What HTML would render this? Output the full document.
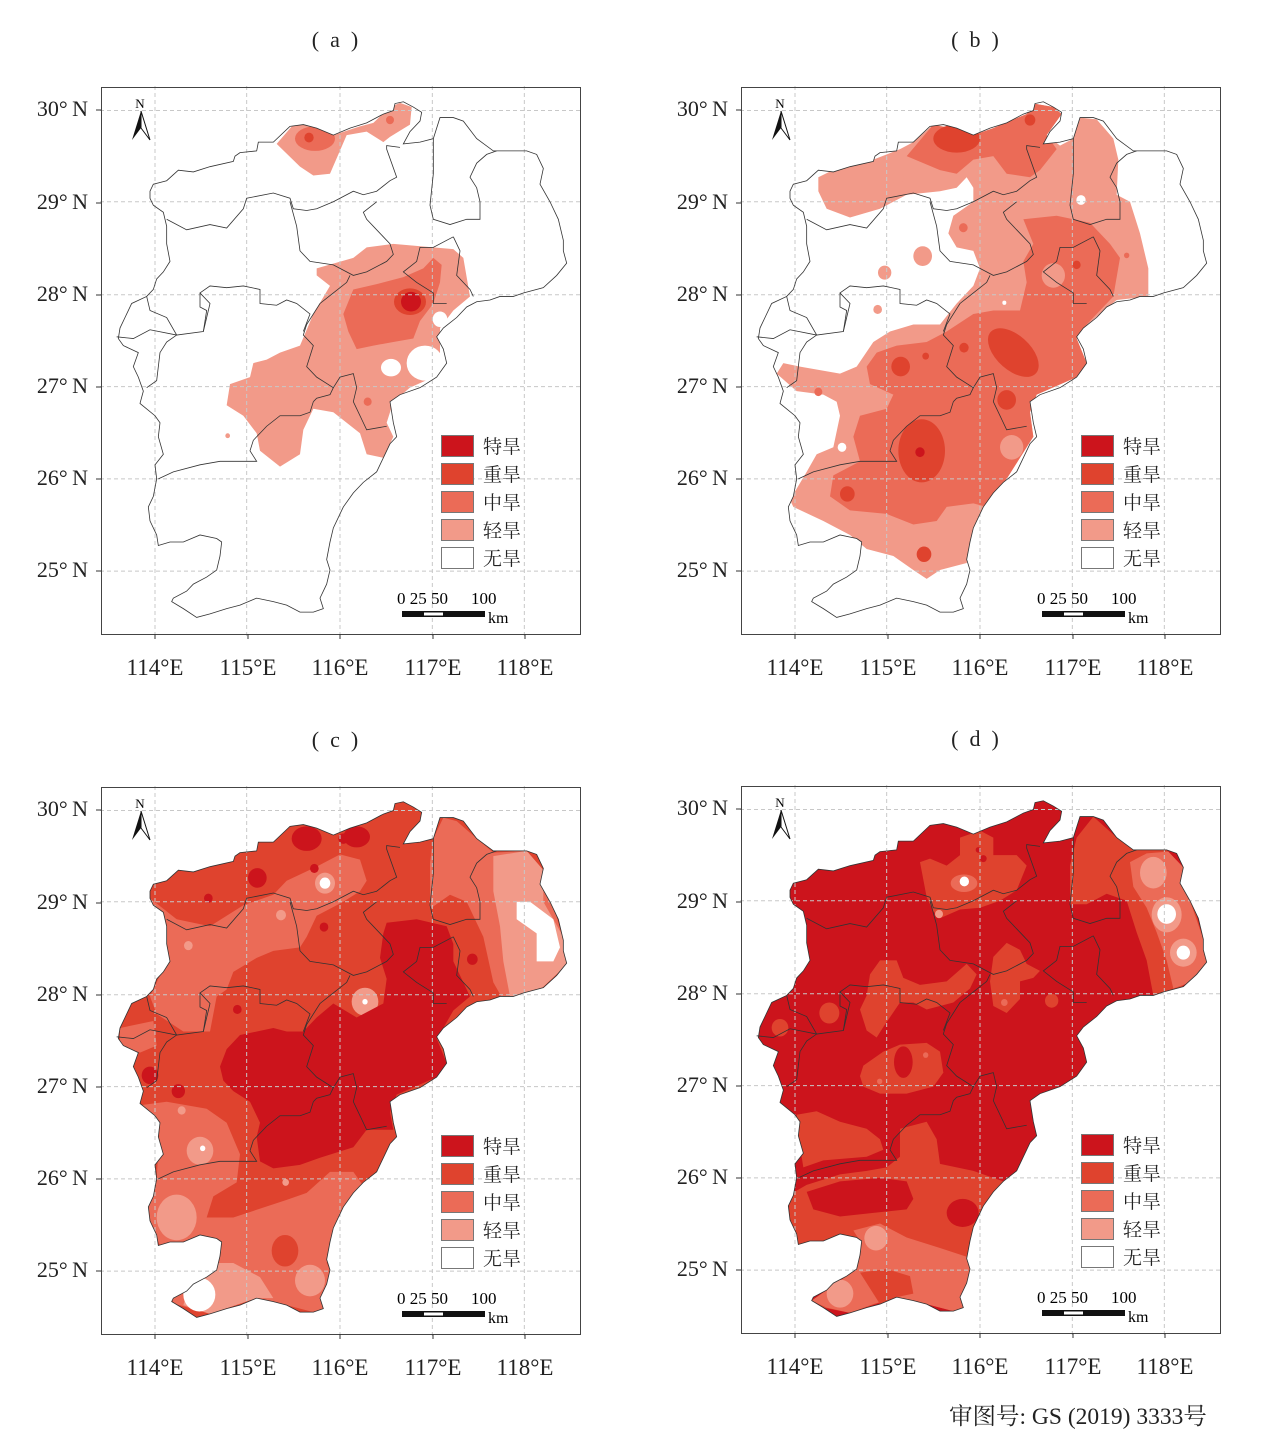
<!DOCTYPE html>
<html><head><meta charset="utf-8">
<style>
html,body{margin:0;padding:0;background:#fff;}
body{width:1288px;height:1440px;position:relative;overflow:hidden;font-family:"Liberation Serif","Noto Serif CJK SC",serif;color:#222;}
.p{position:absolute;width:640px;height:700px;}
.p svg.map{position:absolute;left:100px;top:86px;}
.frame{position:absolute;left:101px;top:87px;width:478px;height:546px;border:1px solid #444;}
.t{position:absolute;font-size:21px;white-space:nowrap;}
.lat{position:absolute;font-size:22px;width:70px;text-align:right;left:18px;}
.lon{position:absolute;font-size:23px;width:90px;text-align:center;top:655px;}
.lb{position:absolute;left:441px;width:31px;height:20px;border:1px solid #777;}
.lt{position:absolute;left:483px;font-size:19px;font-family:"Liberation Serif","Noto Serif CJK SC",serif;}
.title{position:absolute;top:27px;left:290px;width:90px;text-align:center;font-size:22px;}
</style></head><body>

<div class="p" id="pa" style="left:0;top:0">
 <div class="title">(&ensp;a&ensp;)</div>
</div>
<div class="p" id="pb" style="left:640px;top:0">
 <div class="title">(&ensp;b&ensp;)</div>
</div>
<div class="p" id="pc" style="left:0;top:700px">
 <div class="title">(&ensp;c&ensp;)</div>
</div>
<div class="p" id="pd" style="left:640px;top:699px">
 <div class="title">(&ensp;d&ensp;)</div>
</div>

<div class="t" style="left:949px;top:1397px;font-size:23.5px;">审图号: GS (2019) 3333号</div>

<script>
var C4="#cc141c",C3="#df432e",C2="#eb6b57",C1="#f29a89",W="#ffffff";
var OUT="150,300 160,280 200,270 235,240 280,245 330,230 400,215 405,200 420,190 470,185 475,160 520,160 570,115 610,110 650,120 700,140 750,120 800,105 850,80 880,70 885,50 910,45 940,60 965,75 960,100 930,130 910,165 960,160 1000,150 1020,90 1060,90 1090,100 1130,150 1180,185 1280,185 1310,195 1330,235 1320,280 1350,330 1375,380 1390,440 1390,470 1400,505 1370,540 1330,575 1270,590 1240,600 1200,600 1170,610 1130,615 1100,630 1070,660 1030,690 1010,715 1030,750 1040,790 1010,830 960,860 900,880 870,900 880,960 890,1000 870,1020 850,1060 830,1100 790,1130 760,1160 730,1200 700,1260 690,1300 680,1350 690,1380 680,1420 660,1460 670,1490 640,1500 600,1500 560,1480 520,1470 470,1460 420,1480 380,1490 330,1505 290,1515 250,1490 215,1470 220,1460 260,1440 280,1420 320,1400 350,1380 360,1340 365,1300 350,1290 300,1280 250,1300 210,1300 175,1310 170,1280 150,1240 145,1200 160,1170 170,1120 165,1080 190,1050 175,1000 180,960 165,940 120,905 130,870 115,830 100,800 115,760 70,740 55,720 60,690 75,660 95,620 140,600 160,580 170,550 190,530 210,500 200,450 200,400 190,360 160,340 150,320";
var LINES=[
"200,380 260,410 330,395 380,405 430,350 440,320 520,305 570,320 580,350 620,355 650,350 700,330 760,300 790,310 830,300 870,270 890,260 860,180 860,170 900,175",
"570,330 590,400 600,470 630,500 700,510 760,540 800,530 860,500 880,480 870,450 840,420 800,380 790,360 830,330",
"1000,150 1000,250 990,340 1000,380 1050,395 1100,380 1140,380 1140,330 1130,290 1110,260 1130,220 1160,195 1190,185",
"1060,430 1000,460 960,460 950,500 910,530 950,560 1000,590 1000,620 1040,620",
"1060,430 1080,470 1070,540 1110,580 1120,600",
"750,540 740,560 700,590 660,620 620,680 610,710 640,740 630,770 620,800 650,830 700,860 720,830 760,820 770,860 760,900 790,960 800,980 860,970",
"640,900 630,930 600,940 540,940 500,970 460,1010 450,1040 470,1070 420,1070 360,1070 300,1080 220,1100 175,1120",
"700,860 690,880 650,890 640,900",
"50,715 100,720 150,695 230,710 310,700 320,660 330,620 300,590 330,570 380,575 430,570 480,580 480,620 530,625 560,610 590,620 630,650 610,700",
"140,600 150,640 200,660 230,710 200,730 180,760 170,840 140,860",
"300,590 300,630 320,640 310,700"];
function pg(c,p){return '<polygon fill="'+c+'" points="'+p+'"/>';}
function ci(c,x,y,r,ry,rot){return '<ellipse fill="'+c+'" cx="'+x+'" cy="'+y+'" rx="'+r+'" ry="'+(ry||r)+'"'+(rot?' transform="rotate('+rot+' '+x+' '+y+')"':'')+'/>';}
var FILLS={
a:[pg(W,OUT),
pg(C1,"650,520 760,490 800,460 880,450 1060,465 1090,490 1110,600 1060,640 1020,690 1020,760 1000,830 930,860 880,900 860,960 880,1000 850,1060 800,1050 780,990 700,930 640,920 610,980 600,1050 540,1085 480,1040 470,990 430,940 380,910 390,850 450,830 460,790 500,780 540,760 600,740 640,650 690,570 650,540"),
pg(C1,"530,165 580,110 630,108 700,140 780,115 820,105 870,60 900,48 935,60 930,110 870,145 850,160 800,130 740,140 690,250 640,255 600,230"),
ci(C2,645,150,60,35),ci(C3,627,147,14),ci(C2,870,97,12),
pg(C2,"730,650 760,580 830,565 910,545 970,520 1000,490 1025,510 1020,560 1000,620 960,670 940,720 880,730 820,740 770,750 745,700"),
ci(C3,930,615,48,38),ci(C4,933,615,30,28),
ci(W,873,803,30,25),ci(W,975,790,55,50),ci(W,1020,665,22),ci(C2,803,900,12),ci(C1,383,997,7)].join(''),
b:[pg(W,OUT),
pg(C1,"235,260 300,230 400,210 480,180 520,160 580,110 640,120 700,140 760,120 860,80 880,50 940,60 965,80 920,140 960,170 1000,150 1020,90 1070,95 1120,150 1135,210 1130,310 1170,330 1200,420 1225,520 1225,600 1130,610 1080,650 1030,690 1010,720 1040,790 1010,830 890,880 870,930 880,1000 840,1060 800,1120 740,1200 700,1260 690,1330 680,1360 600,1380 560,1405 520,1380 460,1340 380,1320 330,1280 250,1240 160,1200 150,1180 200,1100 230,1050 280,1030 300,940 290,900 250,880 170,870 110,820 130,790 180,800 300,820 350,800 400,730 450,700 520,680 600,680 650,620 700,570 720,520 700,470 650,460 625,420 640,370 700,330 700,290 680,260 650,290 600,300 500,310 420,350 330,375 260,350 235,300"),
pg(C2,"500,200 580,110 700,140 760,120 860,80 880,50 940,60 965,80 920,140 950,180 900,240 870,260 800,250 760,200 700,210 650,250 600,240"),
pg(C2,"620,700 700,650 760,640 840,640 860,560 850,500 880,450 850,380 950,370 1050,390 1110,450 1140,490 1120,600 1070,650 1030,690 1010,720 1040,790 1010,830 890,880 870,930 880,1000 840,1060 800,1120 740,1200 700,1190 620,1200 590,1240 520,1250 440,1220 330,1210 270,1170 280,1110 360,1070 340,1000 360,940 440,920 460,880 390,850 380,800 410,760 470,740 560,730"),
ci(C1,815,1030,35),ci(C1,940,540,35),
ci(C3,650,150,70,40),ci(C3,870,97,16),ci(C3,545,1040,70,90),ci(C3,820,760,90,50,40),
ci(C3,482,800,28),ci(C3,800,895,28),ci(C3,322,1163,22),ci(C3,672,746,14),ci(C3,557,770,10),ci(C3,1010,510,12),ci(C3,552,1335,22),
ci(C4,540,1044,14),ci(C1,473,262,18),ci(C1,548,485,28),ci(C1,434,532,20),ci(C1,413,637,13),ci(C2,670,404,13),ci(C2,235,872,12),ci(C2,1160,483,8),
ci(W,1023,325,14),ci(W,306,1030,13),ci(W,793,618,6)].join(''),
c:[pg(C3,OUT),
pg(C2,"150,320 230,380 330,400 430,340 520,310 560,270 650,230 720,195 780,210 800,270 780,300 730,330 650,370 620,430 600,460 520,470 470,490 400,530 380,580 350,600 330,700 250,700 170,650 150,600 180,540 200,450"),
pg(C2,"60,690 160,670 170,740 120,760 60,740"),
pg(C2,"1000,150 1030,90 1070,100 1130,150 1180,190 1280,185 1330,240 1390,440 1400,510 1320,580 1210,610 1180,560 1150,430 1100,330 1050,310 990,350 990,220"),
pg(C1,"1180,200 1280,185 1330,240 1330,330 1390,430 1400,510 1310,590 1230,600 1210,500 1200,400 1180,300"),
pg(W,"1250,330 1290,330 1360,380 1380,460 1360,500 1310,500 1310,420 1250,380"),
pg(C2,"120,910 200,900 320,920 380,960 420,1050 410,1130 340,1170 320,1230 400,1230 560,1180 620,1160 690,1100 760,1100 790,1140 760,1170 730,1200 700,1260 680,1360 690,1380 670,1490 640,1500 560,1480 470,1460 330,1505 220,1475 180,1310 150,1240 145,1200 170,1120 180,960"),
ci(C1,230,1230,60,65),pg(C1,"280,1360 400,1360 480,1400 520,1460 470,1460 330,1505 250,1480 270,1420"),
ci(C1,630,1410,45),ci(W,298,1450,48),ci(C1,300,1040,40),ci(W,308,1033,8),ci(C3,555,1325,40,45),
ci(C1,795,615,40),ci(W,795,615,8),
pg(C4,"360,800 380,750 420,710 520,690 560,700 610,700 650,660 700,620 770,660 850,620 860,550 840,490 850,420 860,390 950,380 1040,400 1060,450 1060,500 1080,540 1110,600 1060,640 1030,690 1010,720 1040,790 1010,830 890,880 870,930 880,980 800,980 760,1030 660,1060 600,1080 520,1090 480,1070 470,1000 480,960 450,900 400,870 370,840"),
ci(C4,620,150,45,35),ci(C4,770,145,40,30),ci(C4,730,150,15),ci(C4,472,262,28),ci(C4,643,235,13),ci(C4,325,320,13),ci(C4,672,402,13),ci(C4,412,637,13),ci(C4,1117,494,16),ci(C4,150,825,25),ci(C4,235,870,20),
ci(C1,265,455,13),ci(C1,543,368,15),ci(C1,245,925,12),ci(C1,557,1130,10),ci(C1,675,277,30),ci(W,675,277,16)].join(''),
d:[pg(C4,OUT),
pg(C3,"540,220 570,210 620,230 660,200 660,150 720,130 760,150 760,200 830,200 860,230 830,300 780,330 720,350 660,355 600,380 580,360 560,320"),
pg(C3,"990,230 1010,150 1060,90 1130,150 1180,185 1280,185 1330,240 1390,440 1400,510 1320,580 1240,600 1220,500 1190,420 1160,330 1100,310 1040,340 990,340"),
pg(C2,"1170,220 1220,195 1285,190 1330,235 1320,280 1350,330 1390,440 1400,510 1360,560 1300,580 1280,500 1250,420 1220,350 1180,290"),
ci(C1,1240,250,40,45),ci(C1,1280,370,45,50),ci(C1,1330,478,40),ci(W,1280,368,28),ci(W,1330,478,20),
ci(C2,672,280,40,25),ci(W,673,275,14),ci(C4,715,185,8),ci(C4,730,210,10),ci(C1,597,368,12),
pg(C3,"390,540 420,500 470,500 490,550 540,570 620,560 680,510 710,540 690,580 640,620 560,640 520,620 480,620 430,690 410,720 380,700 360,640 380,600"),
pg(C3,"760,490 800,450 840,470 860,510 900,530 880,550 840,560 840,610 800,650 760,630 750,560"),
pg(C3,"370,800 430,760 480,740 560,735 600,760 610,820 580,860 500,880 420,880 370,860 360,830"),
ci(C4,490,790,28,45),ci(C2,557,770,8),ci(C2,419,845,8),ci(C2,793,620,10),
ci(C3,268,650,30),ci(C3,120,692,25),ci(C3,935,615,20),
pg(C3,"170,940 230,930 300,960 380,980 420,1010 430,1040 380,1060 250,1070 190,1090 175,1000"),
pg(C3,"145,1170 200,1140 300,1110 380,1100 440,1090 480,1060 480,980 560,960 590,1010 600,1080 700,1100 790,1130 760,1160 730,1200 700,1260 690,1300 680,1350 690,1380 680,1420 660,1460 670,1490 640,1500 560,1480 470,1460 330,1505 250,1490 215,1470 260,1440 320,1400 350,1380 360,1300 300,1280 250,1300 175,1310 150,1240"),
pg(C4,"200,1160 300,1130 420,1120 500,1130 520,1180 500,1210 400,1220 300,1230 220,1210"),
ci(C4,668,1220,48,40),
pg(C2,"340,1270 420,1250 500,1290 600,1320 680,1345 690,1380 680,1420 660,1460 670,1490 640,1500 560,1480 470,1460 400,1480 330,1505 260,1490 215,1470 260,1440 320,1400 350,1380 360,1300"),
pg(C3,"360,1390 440,1380 510,1400 520,1450 470,1460 420,1480"),
ci(C1,408,1292,35),ci(C1,300,1450,40)].join('')
};
var lats=[["30",110],["29",203],["28",295],["27",387],["26",479],["25",571]];
var lons=[["114",155],["115",248],["116",340],["117",433],["118",525]];
var names=["特旱","重旱","中旱","轻旱","无旱"],cols=[C4,C3,C2,C1,W];
["a","b","c","d"].forEach(function(k){
 var p=document.getElementById("p"+k);
 var s='<svg class="map" width="482" height="550" viewBox="0 0 1446 1568" preserveAspectRatio="none">';
 s+='<defs><clipPath id="cl'+k+'"><polygon points="'+OUT+'"/></clipPath></defs>';
 s+='<g clip-path="url(#cl'+k+')">'+FILLS[k]+'</g>';
 var g='';
 [165,440,720,997,1273].forEach(function(x){g+='<line x1="'+x+'" y1="0" x2="'+x+'" y2="1568"/>';});
 [70,330,595,857,1120,1383].forEach(function(y){g+='<line x1="0" y1="'+y+'" x2="1446" y2="'+y+'"/>';});
 s+='<g stroke="#c8c8c8" stroke-width="1" stroke-dasharray="4 3">'+g.replace(/\/>/g,' vector-effect="non-scaling-stroke"/>')+'</g>';
 s+='<g fill="none" stroke="#333" stroke-width="0.8">';
 LINES.forEach(function(l){s+='<polyline vector-effect="non-scaling-stroke" points="'+l+'"/>';});
 s+='<polygon vector-effect="non-scaling-stroke" points="'+OUT+'"/></g></svg>';
 var h=s+'<div class="frame"></div>';
 h+='<svg style="position:absolute;left:0;top:0" width="640" height="700"><g stroke="#333" stroke-width="1">';
 lats.forEach(function(l){h+='<line x1="96" y1="'+l[1]+'" x2="101" y2="'+l[1]+'"/>';});
 lons.forEach(function(l){h+='<line x1="'+l[1]+'" y1="634" x2="'+l[1]+'" y2="639"/>';});
 h+='</g>';
 h+='<text x="140" y="108" font-size="13" text-anchor="middle" font-family="Liberation Serif">N</text>';
 h+='<polygon points="141,111 132,140 141,128" fill="#111"/><polygon points="141,111 150,140 141,128" fill="#fff" stroke="#111" stroke-width="1"/>';
 h+='<rect x="402" y="611" width="83" height="6" fill="#111"/><rect x="424" y="612.5" width="19" height="3" fill="#fff"/>';
 h+='<text x="397" y="604" font-size="17" font-family="Liberation Serif">0 25 50</text><text x="471" y="604" font-size="17" font-family="Liberation Serif">100</text>';
 h+='<text x="488" y="623" font-size="16" font-family="Liberation Serif">km</text>';
 h+='</svg>';
 lats.forEach(function(l){h+='<div class="lat" style="top:'+(l[1]-14)+'px">'+l[0]+'°&thinsp;N</div>';});
 lons.forEach(function(l){h+='<div class="lon" style="left:'+(l[1]-45)+'px">'+l[0]+'°E</div>';});
 names.forEach(function(n,i){h+='<div class="lb" style="top:'+(435+28*i)+'px;background:'+cols[i]+'"></div><div class="lt" style="top:'+(432+28*i)+'px">'+n+'</div>';});
 p.insertAdjacentHTML('beforeend',h);
});
</script>
</body></html>
